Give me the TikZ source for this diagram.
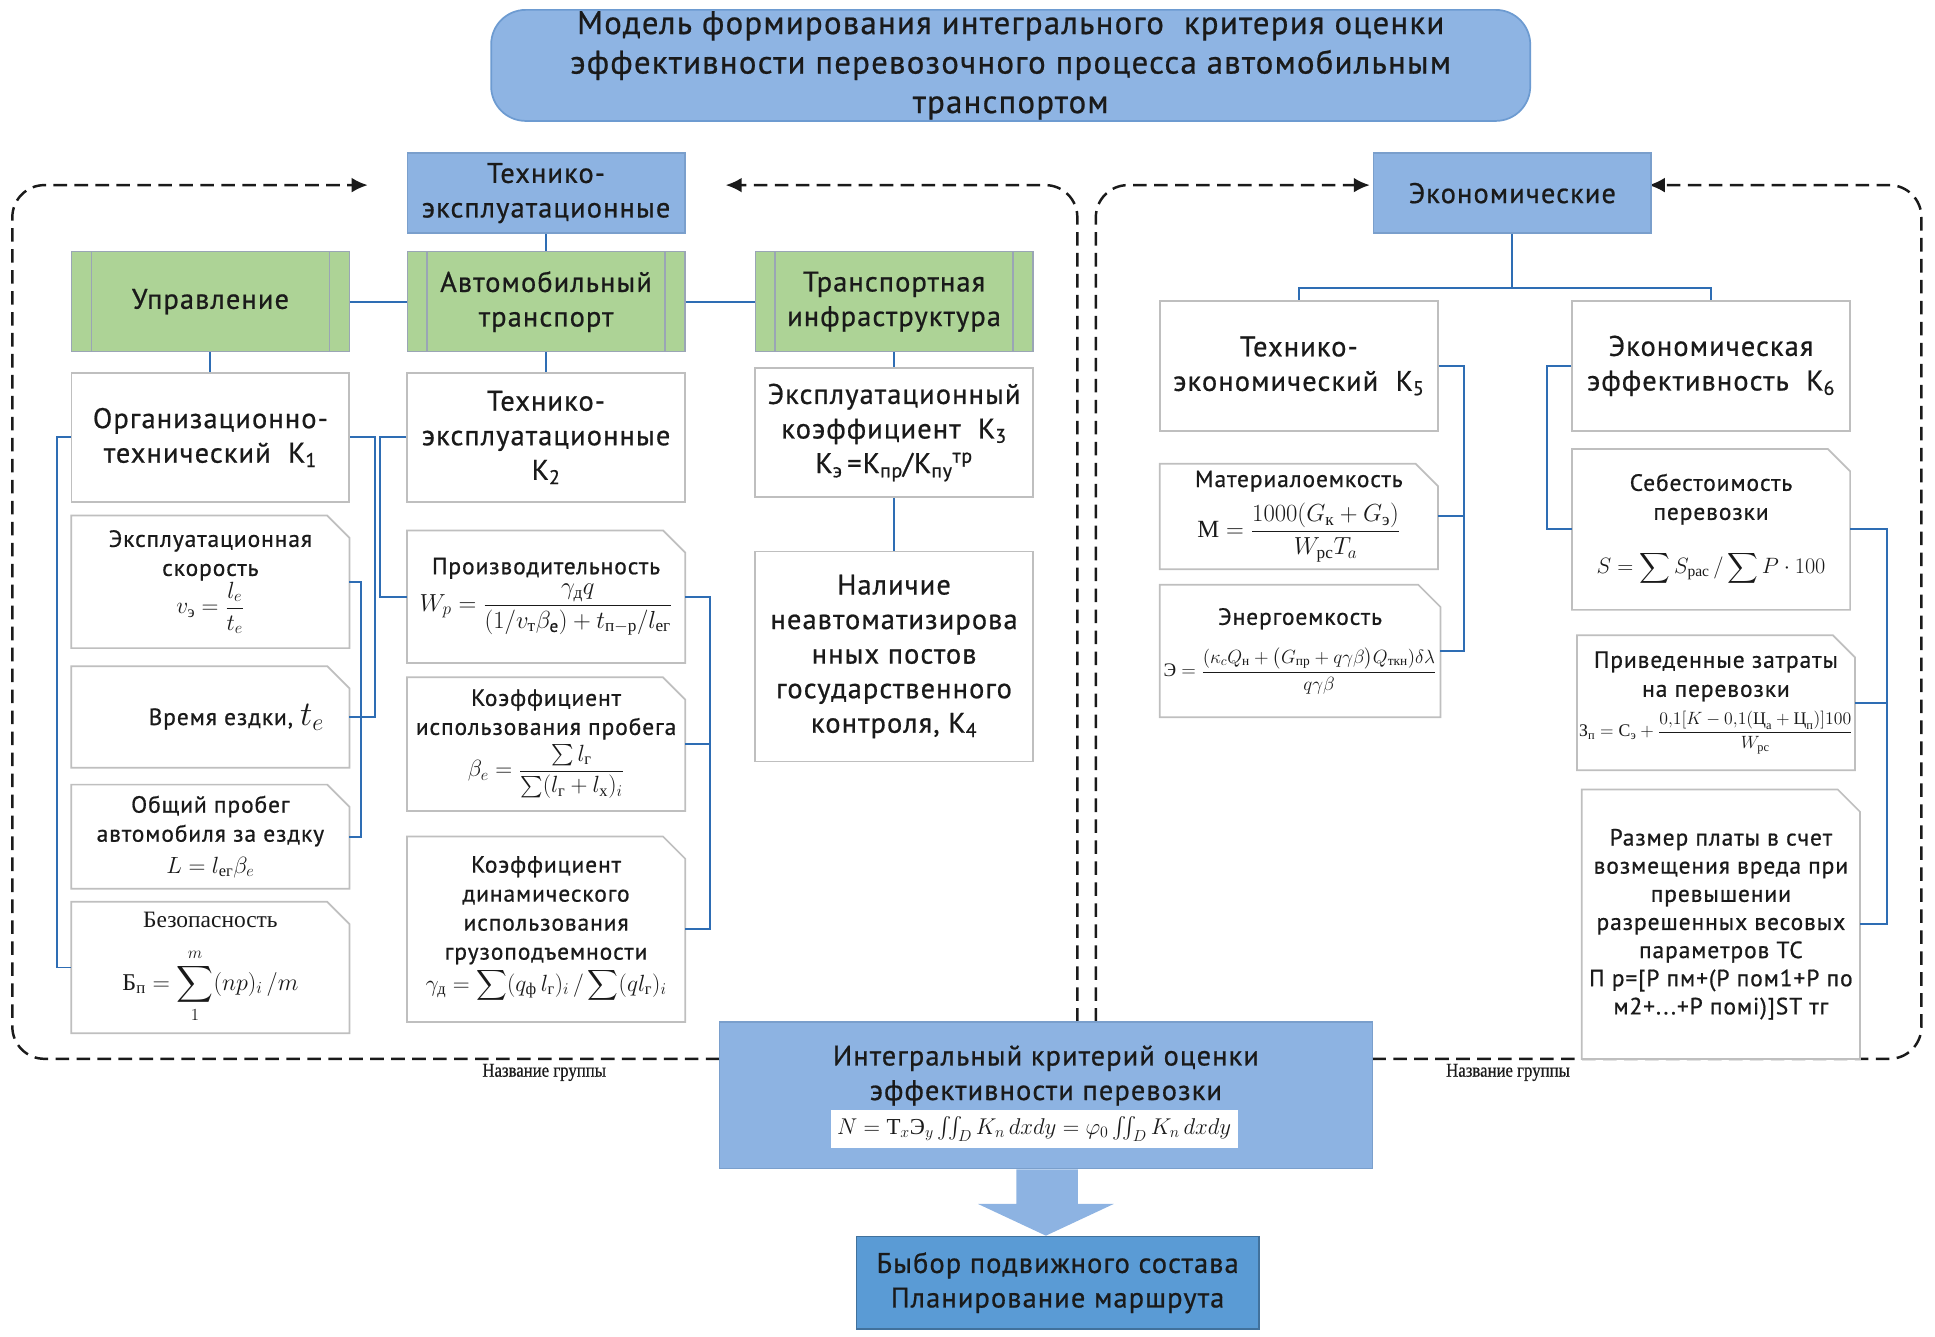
\documentclass[tikz,border=0pt]{standalone}
\usepackage{fix-cm}
\usepackage{amsmath}
\usepackage{fontspec}
\setmainfont{PT Sans}[LetterSpace=4,FakeBold=0.7]
\newfontfamily\cyrserif{Liberation Serif}
\newfontfamily\grpfont{Liberation Serif}[FakeStretch=0.85,FakeBold=0.6]
\usetikzlibrary{arrows.meta,calc}
\definecolor{txtc}{HTML}{1A1A1A}
\definecolor{boxc}{HTML}{BFBFBF}
\definecolor{hdrc}{HTML}{8DB3E2}
\definecolor{hdrb}{HTML}{7A9FCC}
\definecolor{titc}{HTML}{8EB4E3}
\definecolor{titb}{HTML}{6D9BD1}
\definecolor{grc}{HTML}{ADD396}
\definecolor{grb}{HTML}{9AA5B5}
\definecolor{grl}{HTML}{9AA5B5}
\definecolor{connc}{HTML}{2E6DB4}
\definecolor{dashc}{HTML}{1A1A1A}
\definecolor{vybc}{HTML}{5A9BD5}
\definecolor{vybb}{HTML}{41719C}
\definecolor{arrc}{HTML}{8DB3E2}
\newcommand\cy[1]{\text{\cyrserif\upshape #1}}
\newcommand\ftitle{\fontsize{26.5}{32}\selectfont}
\newcommand\fbig{\fontsize{23}{28}\selectfont}
\newcommand\fmid{\fontsize{19}{23.5}\selectfont}
\newcommand\fm[2]{{\fontsize{#1}{#1}\selectfont$\displaystyle #2$}}
\newcommand\chamf[1]{\draw[boxline] (#1.north west) -- ([xshift=-18pt]#1.north east) -- ([yshift=-18pt]#1.north east) -- (#1.south east) -- (#1.south west) -- cycle;}
\tikzset{
 txt/.style={text=txtc, align=center, inner sep=0pt},
 boxline/.style={draw=boxc, line width=1.4pt},
 wbox/.style={txt, draw=boxc, line width=1.4pt, fill=white, font=\fbig},
 cbox/.style={txt, fill=white, font=\fmid},
 hbox/.style={txt, fill=hdrc, draw=hdrb, line width=1.2pt, font=\fbig},
 gbox/.style={txt, fill=grc, draw=grb, line width=1.2pt, font=\fbig,
   minimum width=225pt, minimum height=81pt,
   path picture={\draw[draw=grl, line width=1.2pt]
     ([xshift=16pt]path picture bounding box.north west) -- ([xshift=16pt]path picture bounding box.south west)
     ([xshift=-16pt]path picture bounding box.north east) -- ([xshift=-16pt]path picture bounding box.south east);}},
 conn/.style={draw=connc, line width=1.6pt},
 dframe/.style={draw=dashc, line width=2pt, dash pattern=on 11pt off 6pt, rounded corners=26pt},
 arrowend/.style={-{Latex[length=13pt,width=12pt]}},
 lbl/.style={font=\grpfont\fontsize{16}{17}\selectfont, inner sep=0pt, text=txtc},
}
\begin{document}
\begin{tikzpicture}[x=1pt,y=-1pt]
\useasboundingbox (0,0) rectangle (1568,1083.4);
% free ends of the dashed frames
\coordinate (a1) at (298,150);
\coordinate (s1) at (583,858);
\coordinate (a2) at (588,150);
\coordinate (s2) at (873,828);
\coordinate (a3) at (1110,150);
\coordinate (s3) at (888,828);
\coordinate (a4) at (1336,150);
\coordinate (s4) at (1112,858);
\draw[dframe, arrowend] (s1) -- (10,858) -- (10,150) -- (a1);
\draw[dframe, arrowend] (s2) -- (873,150) -- (a2);
\draw[dframe, arrowend] (s3) -- (888,150) -- (a3);
\draw[dframe, arrowend] (s4) -- (1557,858) -- (1557,150) -- (a4);
\node[lbl] (g1) at (441,869) {Название группы};
\node[lbl] (g2) at (1222,869) {Название группы};

% title
\node[txt, fill=titc, draw=titb, line width=1.4pt, rounded corners=28pt, minimum width=842pt, minimum height=90pt, font=\ftitle] (title) at (819,53)
 {Модель формирования интегрального\ \ критерия оценки\\эффективности перевозочного процесса автомобильным\\транспортом};

% headers
\node[hbox, minimum width=225pt, minimum height=65pt] (hte) at (442.5,156.5) {Технико-\\эксплуатационные};
\node[hbox, minimum width=225pt, minimum height=65pt] (hec) at (1225.5,156.5) {Экономические};

% green
\node[gbox] (upr) at (170.5,244.5) {Управление};
\node[gbox] (avt) at (442.5,244.5) {Автомобильный\\транспорт};
\node[gbox] (inf) at (724.5,244.5) {Транспортная\\инфраструктура};

% left column
\node[wbox, minimum width=225pt, minimum height=105pt] (k1) at (170.5,354.5) {Организационно-\\технический\ \ K\textsubscript{1}};
\node[cbox, minimum width=225pt, minimum height=107pt] (vsp) at (170.5,471.5)
 {Эксплуатационная\\скорость\\ \fm{19}{v_{\cy{э}}=\frac{l_e}{t_e}}};
\chamf{vsp}
\node[cbox, minimum width=225pt, minimum height=82pt] (tez) at (170.5,581)
 {\hspace*{42pt}Время ездки, {\fontsize{28}{28}\selectfont$t_e$}};
\chamf{tez}
\node[cbox, minimum width=225pt, minimum height=84pt] (obp) at (170.5,678)
 {Общий пробег\\автомобиля за ездку\\[2pt] \fm{19}{L=l_{\cy{ег}}\beta_e}};
\chamf{obp}
\node[cbox, minimum width=225pt, minimum height=106pt] (bez) at (170.5,784)
 {{\cyrserif Безопасность}\\[16pt] \fm{19.5}{\cy{Б}_{\cy{п}}=\sum_{1}^{m}(np)_i\,/m}};
\chamf{bez}

% middle column
\node[wbox, minimum width=225pt, minimum height=105pt] (k2) at (442.5,354.5) {Технико-\\эксплуатационные\\K\textsubscript{2}};
\node[cbox, minimum width=225pt, minimum height=107pt] (prz) at (442.5,483.5)
 {Производительность\\[3pt] \fm{20}{W_p=\frac{\gamma_{\cy{д}}q}{(1/v_{\cy{т}}\beta_{\mathrm{e}})+t_{\cy{п}-\cy{р}}/l_{\cy{ег}}}}};
\chamf{prz}
\node[cbox, minimum width=225pt, minimum height=108pt] (kpr) at (442.5,603)
 {Коэффициент\\использования пробега\\[3pt] \fm{19}{\beta_e=\frac{\sum l_{\cy{г}}}{\sum(l_{\cy{г}}+l_{\cy{х}})_i}}};
\chamf{kpr}
\node[cbox, minimum width=225pt, minimum height=150pt] (kdn) at (442.5,753)
 {Коэффициент\\динамического\\использования\\грузоподъемности\\[2pt] \fm{19}{\gamma_{\cy{д}}=\sum(q_{\cy{ф}}\,l_{\cy{г}})_i\,/\sum(ql_{\cy{г}})_i}};
\chamf{kdn}

% right column of left frame
\node[wbox, minimum width=225pt, minimum height=105pt] (k3) at (724.5,350.5)
 {Эксплуатационный\\коэффициент\ \ K\textsubscript{3}\\K\textsubscript{э}\,=K\textsubscript{пр}/K\textsubscript{пу}\textsuperscript{тр}};
\node[wbox, minimum width=225pt, minimum height=170pt] (k4) at (724.5,532)
 {Наличие\\неавтоматизирова\\нных постов\\государственного\\контроля, K\textsubscript{4}};

% right frame
\node[wbox, minimum width=225pt, minimum height=105pt] (k5) at (1052.5,296.5) {Технико-\\экономический\ \ K\textsubscript{5}};
\node[wbox, minimum width=225pt, minimum height=105pt] (k6) at (1386.5,296.5) {Экономическая\\эффективность\ \ K\textsubscript{6}};
\node[cbox, minimum width=225pt, minimum height=85pt] (mat) at (1052.5,418.5)
 {Материалоемкость\\[8pt] \fm{20}{\cy{М}=\frac{1000(G_{\cy{к}}+G_{\cy{э}})}{W_{\cy{рс}}T_a}}};
\chamf{mat}
\node[cbox, minimum width=227pt, minimum height=107pt] (ener) at (1053.5,527.5)
 {Энергоемкость\\[13pt] \fm{15.5}{\cy{Э}=\frac{(\kappa_cQ_{\cy{н}}+\bigl(G_{\cy{пр}}+q\gamma\beta\bigr)Q_{\cy{ткн}})\delta\lambda}{q\gamma\beta}}};
\chamf{ener}
\node[cbox, minimum width=225pt, minimum height=130pt] (seb) at (1386.5,429)
 {Себестоимость\\перевозки\\[20pt] \fm{18}{S=\sum S_{\cy{рас}}\,/\sum P\cdot 100}};
\chamf{seb}
\node[cbox, minimum width=225pt, minimum height=109pt] (prv) at (1390.5,569.5)
 {Приведенные затраты\\на перевозки\\[7pt] \fm{14.4}{\cy{З}_{\cy{п}}=\cy{С}_{\cy{э}}+\frac{0{,}1[K-0{,}1(\cy{Ц}_{\cy{а}}+\cy{Ц}_{\cy{п}})]100}{W_{\cy{рс}}}}};
\chamf{prv}
\node[cbox, minimum width=225pt, minimum height=218pt, font=\fontsize{19}{22.8}\selectfont] (raz) at (1394.5,749)
 {Размер платы в счет\\возмещения вреда при\\превышении\\разрешенных весовых\\параметров ТС\\П р=[Р пм+(Р пом1+Р по\\м2+...+Р помi)]ST тг};
\chamf{raz}

% integral criterion
\node[txt, fill=hdrc, draw=hdrb, line width=1.2pt, font=\fbig, minimum width=529pt, minimum height=119pt] (int) at (847.5,887.5)
 {Интегральный критерий оценки\\эффективности перевозки\\\strut};
\node[txt, fill=white, minimum width=330pt, minimum height=31pt] (intf) at (838,915)
 {{\fontsize{18.5}{18.5}\selectfont$\textstyle N=\cy{Т}_x\cy{Э}_y\iint_D K_n\,dxdy=\varphi_0\iint_D K_n\,dxdy$}};
\node[txt, fill=vybc, draw=vybb, line width=1.4pt, font=\fbig, minimum width=326pt, minimum height=75pt] (vyb) at (857,1039.5)
 {Быбор подвижного состава\\Планирование маршрута};
% block arrow
\fill[arrc] ([xshift=-24pt]int.south) -- ([xshift=-24pt,yshift=-28pt]int.south) -- ([xshift=-55pt,yshift=-28pt]int.south)
  -- (int.south |- vyb.north) -- ([xshift=55pt,yshift=-28pt]int.south) -- ([xshift=26pt,yshift=-28pt]int.south)
  -- ([xshift=26pt]int.south) -- cycle;

% connectors
\draw[conn] (hte) -- (avt);
\draw[conn] (upr) -- (avt);
\draw[conn] (avt) -- (inf);
\draw[conn] (upr) -- (k1);
\draw[conn] (avt) -- (k2);
\draw[conn] (inf) -- (k3);
\draw[conn] (k3) -- (k4);
\draw[conn] (k1.west) -- ++(-11,0) |- (bez.west);
\draw[conn] (k1.east) -- ++(20,0) |- (tez.east);
\draw[conn] (vsp.east) -- ++(9,0) |- (obp.east);
\draw[conn] (k2.west) -- ++(-21,0) |- (prz.west);
\draw[conn] (prz.east) -- ++(20,0) |- (kdn.east);
\draw[conn] (kpr.east) -- ++(20,0);
\coordinate (ej) at (1225.5,233);
\draw[conn] (hec.south) -- (ej) -| (k5.north);
\draw[conn] (ej) -| (k6.north);
\draw[conn] (k5.east) -- ++(21,0) |- (ener.east);
\draw[conn] (mat.east) -- ++(21,0);
\draw[conn] (k6.west) -- ++(-20,0) |- (seb.west);
\draw[conn] (seb.east) -- ++(30,0) |- (raz.east);
\draw[conn] (prv.east) -- ++(26,0);
\end{tikzpicture}
\end{document}
